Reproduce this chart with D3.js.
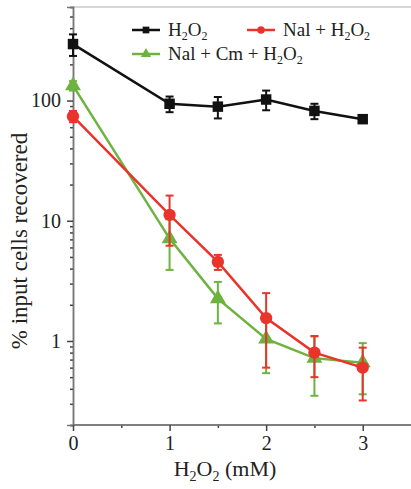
<!DOCTYPE html>
<html><head><meta charset="utf-8">
<script src="https://cdn.jsdelivr.net/npm/d3@7"></script>
<style>body{margin:0;background:#fff}svg{display:block}svg text{font-family:'Liberation Serif','DejaVu Serif',serif !important;fill:#222}</style>
</head><body><svg id="c" width="411" height="489" font-family="Liberation Serif, serif"></svg>
<script>
const doses = [0, 1, 1.5, 2, 2.5, 3];
const h2o2 = [295, 94, 89, 102, 82, 70];
const h2o2Err = [60, 14, 18, 19, 12, 5];
const nal = [74, 11.2, 4.55, 1.55, 0.8, 0.6];
const nalErr = [8, 5, 0.65, 0.95, 0.3, 0.28];
const nalCm = [133, 7.1, 2.25, 1.04, 0.72, 0.66];
const nalCmErr = [12, 3.2, 0.85, 0.5, 0.37, 0.3];
const xTicks = [0, 1, 2, 3];
const yTicks = [1, 10, 100];

const svg = d3.select("#c");
const x = d3.scaleLinear().domain([0, 3.5]).range([73, 411]);
const y = d3.scaleLog().domain([0.2, 600]).range([425, 7]);

svg.append("line").attr("x1",73).attr("x2",411).attr("y1",7).attr("y2",7).attr("stroke","#c8c8c8").attr("stroke-width",1.5);

const yMinor = [];
[0.1,1,10,100].forEach(d=>{for(let k=2;k<=9;k++){const v=d*k; if(v>=0.2&&v<=600&&v!==1&&v!==10&&v!==100) yMinor.push(v);}});
const gyMin = svg.append("g").attr("transform","translate(73,0)")
  .call(d3.axisLeft(y).tickValues(yMinor).tickSize(3).tickFormat(""));
const gy = svg.append("g").attr("transform","translate(73,0)")
  .call(d3.axisLeft(y).tickValues(yTicks).tickSize(6).tickPadding(6).tickFormat(d3.format("d")));
const gxMin = svg.append("g").attr("transform","translate(0,425)")
  .call(d3.axisBottom(x).tickValues([0.5,1.5,2.5]).tickSize(3).tickFormat(""));
const gx = svg.append("g").attr("transform","translate(0,425)")
  .call(d3.axisBottom(x).tickValues(xTicks).tickSize(6).tickPadding(5).tickFormat(d3.format("d")));
[gyMin,gy,gxMin,gx].forEach(g=>{
  g.attr("font-family","Liberation Serif, serif");
  g.select(".domain").attr("stroke","#777").attr("stroke-width",1.5);
  g.selectAll(".tick line").attr("stroke","#444").attr("stroke-width",1.5);
  g.selectAll(".tick text").style("font-size","20px").attr("fill","#222");
});
gx.select(".domain").attr("d","M73,0H411");
gxMin.select(".domain").attr("d","M73,0H411");

svg.append("text").attr("transform","translate(27,241) rotate(-90)").attr("text-anchor","middle")
  .style("font-size","23px").text("% input cells recovered");
const xt = svg.append("text").attr("x",225).attr("y",476).attr("text-anchor","middle").style("font-size","22px");
xt.append("tspan").text("H");
xt.append("tspan").attr("dy",5).style("font-size","14px").text("2");
xt.append("tspan").attr("dy",-5).text("O");
xt.append("tspan").attr("dy",5).style("font-size","14px").text("2");
xt.append("tspan").attr("dy",-5).text(" (mM)");

const series = [
  {name:"H2O2", vals:h2o2, err:h2o2Err, color:"#111111", shape:d3.symbolSquare, size:110},
  {name:"NalH2O2", vals:nal, err:nalErr, color:"#e8342b", shape:d3.symbolCircle, size:120},
  {name:"NalCm", vals:nalCm, err:nalCmErr, color:"#6db33f", shape:d3.symbolTriangle, size:110}
];
const order = [0,2,1];
order.forEach(i=>{
  const s = series[i];
  const g = svg.append("g");
  const pts = doses.map((d,j)=>({x:d,v:s.vals[j],e:s.err[j]}));
  g.append("path").datum(pts).attr("fill","none").attr("stroke",s.color).attr("stroke-width",2.5)
    .attr("d",d3.line().x(p=>x(p.x)).y(p=>y(p.v)));
  pts.forEach(p=>{
    const lo = Math.max(p.v-p.e, 0.21), hi = p.v+p.e;
    g.append("line").attr("x1",x(p.x)).attr("x2",x(p.x)).attr("y1",y(lo)).attr("y2",y(hi)).attr("stroke",s.color).attr("stroke-width",2);
    [lo,hi].forEach(b=>g.append("line").attr("x1",x(p.x)-4).attr("x2",x(p.x)+4).attr("y1",y(b)).attr("y2",y(b)).attr("stroke",s.color).attr("stroke-width",2));
  });
  g.selectAll("path.m").data(pts).join("path").attr("class","m")
    .attr("transform",p=>`translate(${x(p.x)},${y(p.v)})`)
    .attr("d",d3.symbol().type(s.shape).size(s.size)).attr("fill",s.color);
});

function sub(t, parts){let last="n";parts.forEach(([txt,isSub])=>{
  const ts=t.append("tspan").text(txt);
  if(isSub){ts.attr("dy",4).style("font-size","12px");}
  else if(last==="s"){ts.attr("dy",-4);}
  last=isSub?"s":"n";
});}
const legend = [
  {s:0, lx:132, ly:30, parts:[["H",0],["2",1],["O",0],["2",1]]},
  {s:1, lx:247, ly:30, parts:[["Nal + H",0],["2",1],["O",0],["2",1]]},
  {s:2, lx:132, ly:54, parts:[["Nal + Cm + H",0],["2",1],["O",0],["2",1]]}
];
legend.forEach(L=>{
  const s = series[L.s];
  svg.append("line").attr("x1",L.lx).attr("x2",L.lx+28).attr("y1",L.ly).attr("y2",L.ly).attr("stroke",s.color).attr("stroke-width",2.5);
  svg.append("path").attr("transform",`translate(${L.lx+14},${L.ly})`).attr("d",d3.symbol().type(s.shape).size(45)).attr("fill",s.color);
  const t = svg.append("text").attr("x",L.lx+36).attr("y",L.ly+6).style("font-size","19px");
  sub(t, L.parts);
});
</script></body></html>
